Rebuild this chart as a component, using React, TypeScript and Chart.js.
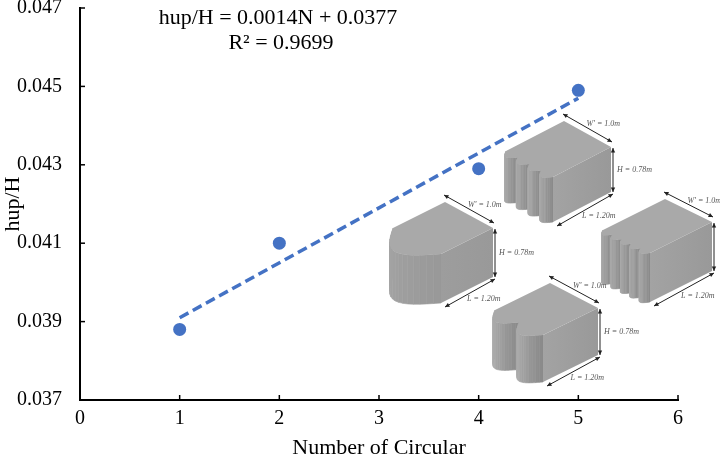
import { useEffect, useRef } from "react";
import { Chart, registerables, Plugin } from "chart.js";

Chart.register(...registerables);

// measured values
const circleCounts = [1, 2, 4, 5];
const hupRatio = [0.0388, 0.041, 0.0429, 0.0449];

// linear trend line, read at its two ends
const trendX = [1, 5];
const trendY = [0.0391, 0.0447];

const yTicks = [0.037, 0.039, 0.041, 0.043, 0.045, 0.047];
const equationLines = ["hup/H = 0.0014N + 0.0377", "R\u00b2 = 0.9699"];
const dimLabels = ["W' = 1.0m", "H = 0.78m", "L = 1.20m"];

const FONT = "'Liberation Serif', 'Times New Roman', serif";
const BLUE = "#4472C4";

type Pt = [number, number];
const add = (a: Pt, b: Pt): Pt => [a[0] + b[0], a[1] + b[1]];
const scl = (a: Pt, k: number): Pt => [a[0] * k, a[1] * k];

// the inset picture of the four blocks (canvas pixels)
const insetBlocks = [
  { f: [553, 177] as Pt, l: [58, -30] as Pt, w: [-47, -26] as Pt, h: 45, bumps: 4 },
  { f: [441, 254] as Pt, l: [52, -26] as Pt, w: [-48, -26] as Pt, h: 49, bumps: 1 },
  { f: [650, 253] as Pt, l: [62, -31] as Pt, w: [-47, -23] as Pt, h: 49, bumps: 5 },
  { f: [543, 335] as Pt, l: [55, -27] as Pt, w: [-48, -25] as Pt, h: 47, bumps: 2 },
];

function arrow(ctx: CanvasRenderingContext2D, a: Pt, b: Pt) {
  ctx.beginPath();
  ctx.moveTo(a[0], a[1]);
  ctx.lineTo(b[0], b[1]);
  ctx.stroke();
  for (const [p, q] of [[a, b], [b, a]] as [Pt, Pt][]) {
    const ang = Math.atan2(p[1] - q[1], p[0] - q[0]);
    ctx.beginPath();
    ctx.moveTo(p[0], p[1]);
    ctx.lineTo(p[0] - 5 * Math.cos(ang - 0.45), p[1] - 5 * Math.sin(ang - 0.45));
    ctx.lineTo(p[0] - 5 * Math.cos(ang + 0.45), p[1] - 5 * Math.sin(ang + 0.45));
    ctx.closePath();
    ctx.fill();
  }
}

function drawBlock(ctx: CanvasRenderingContext2D, b: (typeof insetBlocks)[number]) {
  const { f, l, w, h, bumps } = b;
  const down: Pt = [0, h];
  const a = add(f, w);
  const bulge = scl(l, -0.42 / bumps);
  const curve: { p: Pt; t: number }[] = [];
  const steps = 16;
  for (let i = 0; i < bumps; i++) {
    for (let s = 0; s <= steps; s++) {
      const t = s / steps;
      const u = (i + t) / bumps;
      curve.push({ p: add(add(a, scl(w, -u)), scl(bulge, Math.sin(Math.PI * t))), t });
    }
  }

  // rounded side
  for (let k = 0; k < curve.length - 1; k++) {
    const p = curve[k].p;
    const q = curve[k + 1].p;
    const t = (curve[k].t + curve[k + 1].t) / 2;
    const g =
      bumps === 1
        ? Math.round(170 - 18 * t)
        : Math.round(150 + 22 * Math.cos(Math.PI * (t - 0.3)));
    ctx.fillStyle = `rgb(${g},${g},${g})`;
    ctx.strokeStyle = ctx.fillStyle;
    ctx.lineWidth = 0.6;
    ctx.beginPath();
    ctx.moveTo(p[0], p[1]);
    ctx.lineTo(q[0], q[1]);
    ctx.lineTo(q[0], q[1] + h);
    ctx.lineTo(p[0], p[1] + h);
    ctx.closePath();
    ctx.fill();
    ctx.stroke();
  }

  // flat side
  const fl = add(f, l);
  const grad = ctx.createLinearGradient(f[0], 0, fl[0], 0);
  grad.addColorStop(0, bumps === 1 ? "#9d9d9d" : "#a3a3a3");
  grad.addColorStop(1, "#999999");
  ctx.fillStyle = grad;
  ctx.beginPath();
  ctx.moveTo(f[0], f[1]);
  ctx.lineTo(fl[0], fl[1]);
  ctx.lineTo(fl[0], fl[1] + h);
  ctx.lineTo(f[0], f[1] + h);
  ctx.closePath();
  ctx.fill();

  // top
  const flw = add(fl, w);
  ctx.fillStyle = "#a9a9a9";
  ctx.beginPath();
  ctx.moveTo(fl[0], fl[1]);
  ctx.lineTo(flw[0], flw[1]);
  curve.forEach(({ p }) => ctx.lineTo(p[0], p[1]));
  ctx.closePath();
  ctx.fill();

  // dimensions
  ctx.strokeStyle = "#222";
  ctx.fillStyle = "#222";
  ctx.lineWidth = 1;
  const w0 = add(flw, [-1, -7]);
  const w1 = add(fl, [1, -5]);
  arrow(ctx, w0, w1);
  const hx = fl[0] + 2;
  arrow(ctx, [hx, fl[1] + 1], [hx, fl[1] + h]);
  const l0 = add(add(fl, down), [2, 2]);
  const l1 = add(add(f, down), [4, 4]);
  arrow(ctx, l0, l1);

  ctx.font = `italic 8px ${FONT}`;
  ctx.fillStyle = "#555";
  ctx.textAlign = "left";
  ctx.textBaseline = "middle";
  const wm = scl(add(w0, w1), 0.5);
  ctx.fillText(dimLabels[0], wm[0] - 1, wm[1] - 4);
  if (hx + 40 < 720) ctx.fillText(dimLabels[1], hx + 4, fl[1] + h / 2);
  const lm = scl(add(l0, l1), 0.5);
  ctx.fillText(dimLabels[2], lm[0] - 3, lm[1] + 6);
}

const extras: Plugin<"scatter"> = {
  id: "extras",
  afterDraw(chart) {
    const { ctx, chartArea, scales } = chart;
    ctx.save();
    // inward tick marks
    ctx.strokeStyle = "#000";
    ctx.lineWidth = 1.5;
    scales.x.ticks.forEach((t) => {
      const px = scales.x.getPixelForValue(t.value);
      ctx.beginPath();
      ctx.moveTo(px, chartArea.bottom);
      ctx.lineTo(px, chartArea.bottom - 5);
      ctx.stroke();
    });
    scales.y.ticks.forEach((t) => {
      const py = scales.y.getPixelForValue(t.value);
      ctx.beginPath();
      ctx.moveTo(chartArea.left, py);
      ctx.lineTo(chartArea.left + 5, py);
      ctx.stroke();
    });

    // trend equation
    ctx.fillStyle = "#000";
    ctx.font = `22px ${FONT}`;
    ctx.textAlign = "center";
    ctx.textBaseline = "middle";
    ctx.fillText(equationLines[0], 278, 18);
    ctx.fillText(equationLines[1], 281, 43);

    insetBlocks.forEach((b) => drawBlock(ctx, b));
    ctx.restore();
  },
};

const App = () => {
  const chartRef = useRef<Chart<"scatter"> | null>(null);
  const chartCanvas = useRef<HTMLCanvasElement | null>(null);

  useEffect(() => {
    document.body.style.margin = "0";
    if (chartRef.current) {
      chartRef.current.destroy();
    }
    const context = chartCanvas.current?.getContext("2d");
    if (context) {
      chartRef.current = new Chart(context, {
        type: "scatter",
        data: {
          datasets: [
            {
              label: "hup/H",
              data: circleCounts.map((x, i) => ({ x, y: hupRatio[i] })),
              backgroundColor: BLUE,
              borderWidth: 0,
              pointRadius: 6.5,
            },
            {
              label: "Linear",
              data: trendX.map((x, i) => ({ x, y: trendY[i] })),
              showLine: true,
              borderColor: BLUE,
              borderWidth: 3.5,
              borderDash: [10, 5],
              pointRadius: 0,
            },
          ],
        },
        options: {
          animation: false,
          responsive: true,
          maintainAspectRatio: false,
          layout: { padding: { top: 8, right: 42, left: 0, bottom: 0 } },
          plugins: {
            legend: { display: false },
            tooltip: { enabled: false },
          },
          scales: {
            x: {
              type: "linear",
              min: 0,
              max: 6,
              ticks: {
                stepSize: 1,
                color: "#000",
                padding: 7,
                font: { family: FONT, size: 20 },
              },
              grid: { display: false, drawTicks: false },
              border: { display: true, color: "#000", width: 2 },
              title: {
                display: true,
                text: "Number of Circular",
                color: "#000",
                font: { family: FONT, size: 22 },
                padding: { top: 0, bottom: 4 },
              },
              afterFit: (scale) => {
                scale.height = 65;
              },
            },
            y: {
              type: "linear",
              min: 0.037,
              max: 0.047,
              afterBuildTicks: (scale) => {
                scale.ticks = yTicks.map((value) => ({ value }));
              },
              ticks: {
                color: "#000",
                padding: 18,
                font: { family: FONT, size: 20 },
                callback: (v) => Number(v).toFixed(3),
              },
              grid: { display: false, drawTicks: false },
              border: { display: true, color: "#000", width: 2 },
              title: {
                display: true,
                text: "hup/H",
                color: "#000",
                font: { family: FONT, size: 22 },
                padding: { top: 0, bottom: 0 },
              },
              afterFit: (scale) => {
                scale.width = 80;
                scale.paddingTop = 0;
                scale.paddingBottom = 0;
              },
            },
          },
        },
        plugins: [extras],
      });
    }
    return () => {
      if (chartRef.current) {
        chartRef.current.destroy();
        chartRef.current = null;
      }
    };
  }, []);

  return (
    <div style={{ position: "relative", width: 720, height: 465, background: "#fff" }}>
      <canvas ref={chartCanvas}></canvas>
    </div>
  );
};

export default App;
